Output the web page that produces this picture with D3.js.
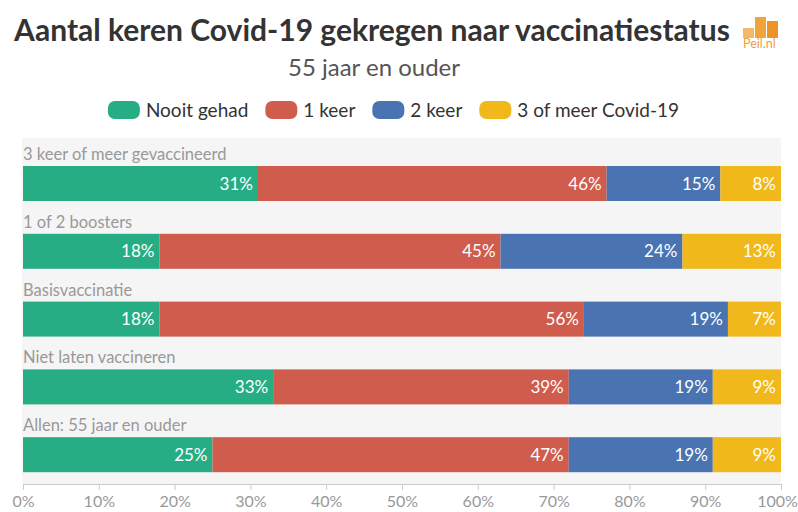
<!DOCTYPE html>
<html>
<head>
<meta charset="utf-8">
<script src="https://cdn.jsdelivr.net/npm/d3@7"></script>
<style>
  html, body { margin: 0; padding: 0; background: #fff; }
  svg { display: block; font-family: Lato, "Noto Sans", sans-serif; }
</style>
</head>
<body>
<svg width="798" height="512"></svg>
<script>
(function() {
  var categories = [
    '3 keer of meer gevaccineerd',
    '1 of 2 boosters',
    'Basisvaccinatie',
    'Niet laten vaccineren',
    'Allen: 55 jaar en ouder'
  ]
  var seriesNames = ['Nooit gehad', '1 keer', '2 keer', '3 of meer Covid-19']
  var nooitGehad = [31, 18, 18, 33, 25]
  var eenKeer = [46, 45, 56, 39, 47]
  var tweeKeer = [15, 24, 19, 19, 19]
  var drieOfMeer = [8, 13, 7, 9, 9]
  var tickValues = [0, 10, 20, 30, 40, 50, 60, 70, 80, 90, 100]
  var colors = ['#27ad84', '#d05c4d', '#4a73b2', '#f0b81b']

  var svg = d3.select('svg')

  // table for the stack
  var table = categories.map(function(c, i) {
    return { cat: c, s0: nooitGehad[i], s1: eenKeer[i], s2: tweeKeer[i], s3: drieOfMeer[i] }
  })
  var stack = d3.stack().keys(['s0', 's1', 's2', 's3'])(table)

  var x = d3.scaleLinear().domain([0, 100]).range([23, 781])
  var y = d3.scaleBand().domain(categories).range([144, 483]).paddingInner(0).paddingOuter(0)
  var barOffset = 22, barHeight = 35

  // title
  svg.append('text')
    .attr('x', 372).attr('y', 41)
    .attr('text-anchor', 'middle')
    .attr('font-size', 30).attr('font-weight', 'bold')
    .attr('fill', '#333')
    .text('Aantal keren Covid-19 gekregen naar vaccinatiestatus')
  svg.append('text')
    .attr('x', 374).attr('y', 76)
    .attr('text-anchor', 'middle')
    .attr('font-size', 24)
    .attr('fill', '#555')
    .text('55 jaar en ouder')

  // logo
  var logo = svg.append('g')
  logo.append('rect').attr('x', 743).attr('y', 28).attr('width', 11).attr('height', 10).attr('fill', '#f4b869')
  logo.append('rect').attr('x', 755).attr('y', 17).attr('width', 11).attr('height', 21).attr('fill', '#f0a43c')
  logo.append('rect').attr('x', 767).attr('y', 21).attr('width', 11).attr('height', 17).attr('fill', '#ee9326')
  logo.append('text').attr('x', 743).attr('y', 48).attr('font-size', 12.5).attr('fill', '#efa040').text('Peil.nl')

  // legend
  var legend = svg.append('g')
  var lx = 0
  seriesNames.forEach(function(name, i) {
    var g = legend.append('g')
    g.append('rect').attr('x', 0).attr('y', 101).attr('width', 32).attr('height', 18)
      .attr('rx', 7).attr('fill', colors[i])
    var t = g.append('text').attr('x', 38).attr('y', 117)
      .attr('font-size', 19).attr('fill', '#333').text(name)
    var w = 38 + t.node().getComputedTextLength()
    g.attr('transform', 'translate(' + lx + ',0)')
    lx += w + 17
  })
  var legendWidth = lx - 17
  legend.attr('transform', 'translate(' + (393.5 - legendWidth / 2) + ',0)')

  // background
  svg.append('rect')
    .attr('x', 22).attr('y', 138)
    .attr('width', x(100) - 22).attr('height', 484 - 138)
    .attr('fill', '#f5f5f5')

  // category labels
  svg.selectAll('.cat')
    .data(categories)
    .enter().append('text')
    .attr('class', 'cat')
    .attr('x', x(0))
    .attr('y', function(d) { return y(d) + 16 })
    .attr('font-size', 16.5)
    .attr('fill', '#999')
    .text(function(d) { return d })

  // bars
  stack.forEach(function(layer, k) {
    var g = svg.append('g')
    g.selectAll('rect')
      .data(layer)
      .enter().append('rect')
      .attr('x', function(d) { return x(d[0]) })
      .attr('y', function(d) { return y(d.data.cat) + barOffset })
      .attr('width', function(d) { return x(d[1]) - x(d[0]) })
      .attr('height', barHeight)
      .attr('fill', colors[k])
    g.selectAll('text')
      .data(layer)
      .enter().append('text')
      .attr('x', function(d) { return x(d[1]) - 5 })
      .attr('y', function(d) { return y(d.data.cat) + barOffset + barHeight / 2 + 6 })
      .attr('text-anchor', 'end')
      .attr('font-size', 17)
      .attr('fill', '#fff')
      .text(function(d) { return (d[1] - d[0]) + '%' })
  })

  // axis
  var axis = svg.append('g')
    .attr('transform', 'translate(0,484)')
    .call(d3.axisBottom(x).tickValues(tickValues).tickSize(6).tickSizeOuter(0)
      .tickFormat(function(d) { return d + '%' }))
  axis.select('.domain').attr('stroke', '#ccc')
  axis.selectAll('.tick line').attr('stroke', '#ccc')
  axis.selectAll('.tick text')
    .attr('fill', '#999')
    .attr('font-size', 16)
    .attr('font-family', 'Lato, "Noto Sans", sans-serif')
    .attr('dy', null)
    .attr('y', 23)
    .attr('x', function(d) { return d === 100 ? -4 : 0 })
})();
</script>
</body>
</html>
